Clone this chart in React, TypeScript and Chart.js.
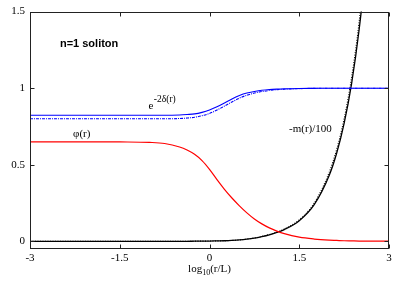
import { useEffect, useRef } from "react";
import { Chart, registerables } from "chart.js";
Chart.register(...registerables);

const xs = [-3, -2.5, -2, -1.5, -1, -0.75, -0.5, -0.375, -0.25, -0.125, 0, 0.125, 0.25, 0.375, 0.5, 0.625, 0.75, 0.875, 1, 1.125, 1.25, 1.5, 1.75, 2, 2.125, 2.25, 2.375, 2.5, 2.625, 2.75, 3];
const phi = [0.65, 0.65, 0.65, 0.649, 0.646, 0.639, 0.616, 0.596, 0.568, 0.527, 0.47, 0.403, 0.34, 0.283, 0.232, 0.186, 0.146, 0.114, 0.088, 0.067, 0.05, 0.027, 0.015, 0.008, 0.006, 0.004, 0.003, 0.002, 0.0015, 0.001, 0.001];
const expDeltaA = [0.823, 0.823, 0.823, 0.823, 0.823, 0.823, 0.825, 0.828, 0.832, 0.842, 0.857, 0.878, 0.903, 0.93, 0.952, 0.968, 0.978, 0.986, 0.991, 0.994, 0.996, 0.998, 0.999, 1, 1, 1, 1, 1, 1, 1, 1];
const expDeltaB = [0.8, 0.8, 0.8, 0.8, 0.8, 0.8, 0.802, 0.805, 0.81, 0.82, 0.835, 0.857, 0.883, 0.91, 0.935, 0.954, 0.968, 0.978, 0.985, 0.99, 0.993, 0.997, 0.999, 1, 1, 1, 1, 1, 1, 1, 1];
const massA = [0, 0, 0, 0, 0, 0, 0, 0, 0.001, 0.0015, 0.002, 0.003, 0.004, 0.006, 0.009, 0.014, 0.021, 0.031, 0.043, 0.058, 0.077, 0.135, 0.24, 0.43, 0.575, 0.77, 1.03, 1.38, 1.84, 2.45, 4.4];
const massB = [0, 0, 0, 0, 0, 0, 0, 0, 0.001, 0.0015, 0.002, 0.003, 0.004, 0.006, 0.009, 0.015, 0.022, 0.032, 0.045, 0.06, 0.08, 0.14, 0.25, 0.45, 0.6, 0.8, 1.07, 1.43, 1.91, 2.55, 4.6];
const xTicks = [-3, -1.5, 0, 1.5, 3];
const yTicks = [0, 0.5, 1, 1.5];

const SERIF = "'Liberation Serif', 'DejaVu Serif', serif";

const framePlugin = {
  id: "frame",
  afterDatasetsDraw(chart: any) {
    const { ctx, scales } = chart;
    const sx = scales.x, sy = scales.y;
    ctx.save();
    ctx.fillStyle = "#000";
    ctx.textBaseline = "middle";
    ctx.textAlign = "left";
    ctx.font = "bold 11px 'Liberation Sans', Arial, sans-serif";
    ctx.fillText("n=1 soliton", sx.getPixelForValue(-2.5), sy.getPixelForValue(1.29));
    const ex = sx.getPixelForValue(-1.02), ey = sy.getPixelForValue(0.885);
    ctx.font = `11px ${SERIF}`;
    ctx.fillText("e", ex, ey);
    const ew = ctx.measureText("e").width;
    ctx.font = `9.5px ${SERIF}`;
    ctx.fillText("-2δ(r)", ex + ew + 0.5, ey - 6);
    ctx.font = `11px ${SERIF}`;
    ctx.fillText("φ(r)", sx.getPixelForValue(-2.28), sy.getPixelForValue(0.70));
    ctx.fillText("-m(r)/100", sx.getPixelForValue(1.33), sy.getPixelForValue(0.735));
    ctx.restore();
  },
  afterDraw(chart: any) {
    const { ctx, chartArea, scales } = chart;
    const l = Math.round(chartArea.left) + 0.5;
    const r = Math.round(chartArea.right) - 0.5;
    const t = Math.round(chartArea.top) + 0.5;
    const b = Math.round(chartArea.bottom) - 0.5;
    ctx.save();
    ctx.strokeStyle = "#222";
    ctx.lineWidth = 1;
    ctx.strokeRect(l, t, r - l, b - t);
    ctx.beginPath();
    const tl = 4;
    for (const v of xTicks) {
      const px = Math.round(scales.x.getPixelForValue(v)) + 0.5;
      ctx.moveTo(px, b); ctx.lineTo(px, b - tl);
      ctx.moveTo(px, t); ctx.lineTo(px, t + tl);
    }
    for (const v of yTicks) {
      const py = Math.round(scales.y.getPixelForValue(v)) + 0.5;
      ctx.moveTo(l, py); ctx.lineTo(l + tl, py);
      ctx.moveTo(r, py); ctx.lineTo(r - tl, py);
    }
    ctx.stroke();
    ctx.fillStyle = "#000";
    ctx.textBaseline = "alphabetic";
    ctx.textAlign = "left";
    ctx.font = `11px ${SERIF}`;
    const w1 = ctx.measureText("log").width;
    const w3 = ctx.measureText("(r/L)").width;
    ctx.font = `8px ${SERIF}`;
    const w2 = ctx.measureText("10").width;
    const total = w1 + w2 + w3;
    const cx = scales.x.getPixelForValue(0);
    const x0 = cx - total / 2;
    const base = 272;
    ctx.font = `11px ${SERIF}`;
    ctx.fillText("log", x0, base);
    ctx.font = `8px ${SERIF}`;
    ctx.fillText("10", x0 + w1, base + 3);
    ctx.font = `11px ${SERIF}`;
    ctx.fillText("(r/L)", x0 + w1 + w2, base);
    ctx.restore();
  },
};

export default function App() {
  const ref = useRef<HTMLCanvasElement>(null);
  useEffect(() => {
    document.body.style.margin = "0";
    const pts = (ys: number[]) => xs.map((x, i) => ({ x, y: ys[i] }));
    const tickFont = { family: SERIF, size: 11 };
    const chart = new Chart(ref.current!, {
      type: "line",
      data: {
        datasets: [
          { data: pts(phi), borderColor: "#ff0000", borderWidth: 1.2, pointRadius: 0, cubicInterpolationMode: "monotone" },
          { data: pts(expDeltaA), borderColor: "#0000ff", borderWidth: 1.1, pointRadius: 0, cubicInterpolationMode: "monotone" },
          { data: pts(expDeltaB), borderColor: "#0000ff", borderWidth: 1.1, borderDash: [3, 1, 1, 1], pointRadius: 0, cubicInterpolationMode: "monotone" },
          { data: pts(massA), borderColor: "#000000", borderWidth: 1.3, pointRadius: 0, cubicInterpolationMode: "monotone" },
          { data: pts(massB), borderColor: "#000000", borderWidth: 1.1, borderDash: [1, 1.5], pointRadius: 0, cubicInterpolationMode: "monotone" },
        ],
      } as any,
      options: {
        animation: false,
        responsive: false,
        devicePixelRatio: 1,
        layout: { padding: { top: 10, right: 14, left: 0, bottom: 0 } },
        plugins: { legend: { display: false }, tooltip: { enabled: false } },
        scales: {
          x: {
            type: "linear",
            min: -3,
            max: 3,
            border: { display: false },
            grid: { display: false, drawTicks: false },
            ticks: { font: tickFont, color: "#000", padding: 3, maxRotation: 0, callback: (v: any) => String(v) },
            afterBuildTicks: (s: any) => { s.ticks = xTicks.map((v) => ({ value: v })); },
            afterFit: (s: any) => { s.height = 34; },
          },
          y: {
            type: "linear",
            min: -0.05,
            max: 1.5,
            border: { display: false },
            grid: { display: false, drawTicks: false },
            ticks: { font: tickFont, color: "#000", padding: 5, callback: (v: any) => String(v) },
            afterBuildTicks: (s: any) => { s.ticks = yTicks.map((v) => ({ value: v })); },
            afterFit: (s: any) => { s.width = 30; },
          },
        },
      } as any,
      plugins: [framePlugin],
    });
    return () => chart.destroy();
  }, []);
  return <canvas ref={ref} width={403} height={283} style={{ display: "block" }} />;
}
